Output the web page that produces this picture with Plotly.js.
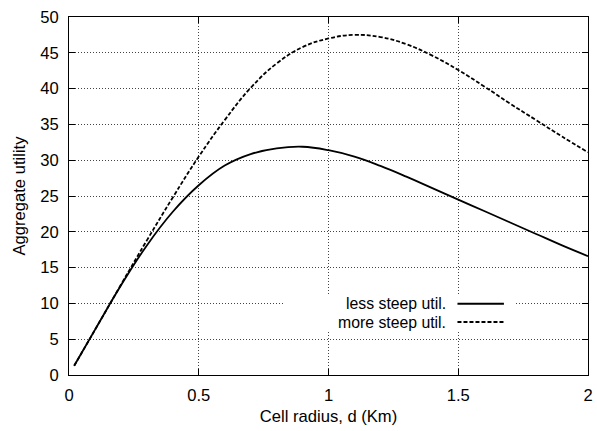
<!DOCTYPE html>
<html>
<head>
<meta charset="utf-8">
<script src="https://cdn.plot.ly/plotly-3.0.1.min.js"></script>
<style>html,body{margin:0;padding:0;background:#fff;}#chart{width:597px;height:431px;}</style>
</head>
<body>
<div id="chart"></div>
<script>
const radius = [0.02, 0.1, 0.2, 0.3, 0.4, 0.5, 0.6, 0.7, 0.8, 0.9, 1.0, 1.1, 1.2, 1.3, 1.4, 1.5, 1.6, 1.7, 1.8, 1.9, 2.0];
const lessSteep = [1.3, 6.3, 12.5, 18.1, 22.8, 26.5, 29.25, 30.85, 31.65, 31.88, 31.4, 30.5, 29.2, 27.7, 26.1, 24.5, 22.9, 21.3, 19.7, 18.1, 16.6];
const moreSteep = [1.3, 6.3, 12.6, 18.8, 24.8, 30.5, 35.6, 40.1, 43.5, 45.8, 47.0, 47.5, 47.2, 46.2, 44.6, 42.6, 40.3, 37.9, 35.6, 33.3, 31.1];
const seriesNames = ["less steep util.", "more steep util."];
const xTicks = [0, 0.5, 1, 1.5, 2];
const yTicks = [0, 5, 10, 15, 20, 25, 30, 35, 40, 45, 50];

const font = {family: "Liberation Sans, Arial, sans-serif", size: 16.6, color: "#000"};
const keyFont = {family: "Liberation Sans, Arial, sans-serif", size: 15.8, color: "#000"};

const traces = [
  {x: radius, y: lessSteep, mode: "lines", name: seriesNames[0],
   line: {color: "#000", width: 1.8, shape: "spline", smoothing: 1.2}},
  {x: radius, y: moreSteep, mode: "lines", name: seriesNames[1],
   line: {color: "#000", width: 1.8, dash: "4px,2px", shape: "spline", smoothing: 1.2}}
];

// manual gnuplot-style key (text right-aligned, sample on right)
const keyX = 1.46, keyY0 = 9.95, keyDy = 2.55;
const annotations = seriesNames.map((n, i) => ({
  x: keyX, y: keyY0 - i * keyDy, xref: "x", yref: "y", text: n, showarrow: false,
  xanchor: "right", yanchor: "middle", font: keyFont
}));
const shapes = [
  {type: "rect", xref: "x", yref: "y", x0: 0.825, x1: 1.719, y0: 6.0, y1: 11.2,
   fillcolor: "#fff", line: {width: 0}, layer: "between"},
  {type: "line", xref: "x", yref: "y", x0: 1.497, x1: 1.676, y0: keyY0, y1: keyY0,
   line: {color: "#000", width: 1.8}},
  {type: "line", xref: "x", yref: "y", x0: 1.497, x1: 1.676, y0: keyY0 - keyDy, y1: keyY0 - keyDy,
   line: {color: "#000", width: 1.8, dash: "4px,2px"}}
];

const axisCommon = {
  showline: true, linecolor: "#000", linewidth: 1, mirror: "ticks",
  ticks: "inside", ticklen: 6, tickcolor: "#000", tickwidth: 1,
  showgrid: true, gridcolor: "#444", griddash: "1px,2px", gridwidth: 1,
  zeroline: false, tickfont: font
};

const layout = {
  width: 597, height: 431,
  margin: {l: 69, r: 9, t: 17, b: 56},
  paper_bgcolor: "#fff", plot_bgcolor: "#fff",
  showlegend: false,
  font: font,
  xaxis: Object.assign({}, axisCommon, {
    range: [0, 2], tickvals: xTicks, ticktext: xTicks.map(String),
    ticklabelstandoff: 5,
    title: {text: "Cell radius, d (Km)", font: font, standoff: 6}
  }),
  yaxis: Object.assign({}, axisCommon, {
    range: [0, 50], tickvals: yTicks, ticktext: yTicks.map(String),
    ticklabelstandoff: 6,
    title: {text: "Aggregate utility", font: font, standoff: 10}
  }),
  annotations: annotations,
  shapes: shapes
};

Plotly.newPlot("chart", traces, layout, {staticPlot: true, displayModeBar: false});
</script>
</body>
</html>
